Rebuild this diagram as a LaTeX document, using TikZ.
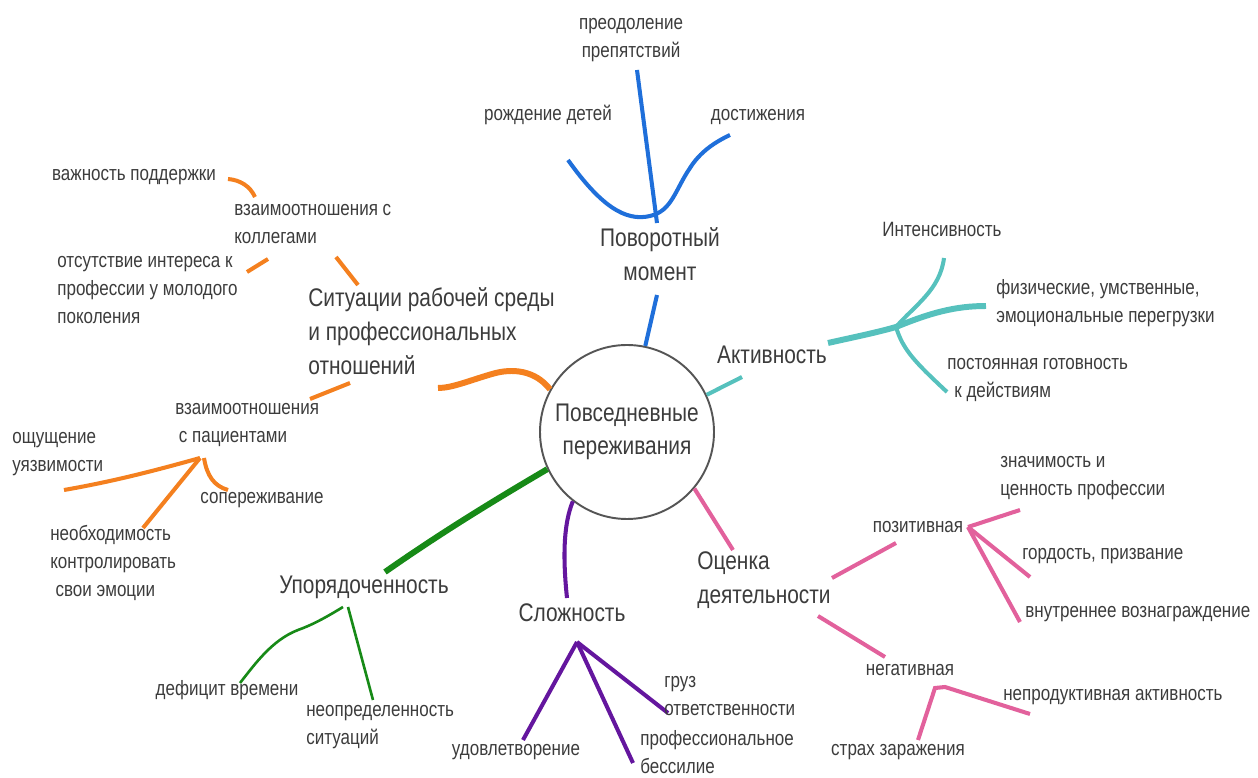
\documentclass[tikz,border=0pt]{standalone}
\usepackage{fontspec}
\setmainfont{Liberation Sans}[FakeStretch=0.82]
\usetikzlibrary{calc}
\definecolor{blau}{HTML}{1F6FDA}
\definecolor{orang}{HTML}{F4801F}
\definecolor{gruen}{HTML}{178A17}
\definecolor{lila}{HTML}{64169E}
\definecolor{rosa}{HTML}{E2619C}
\definecolor{tuerkis}{HTML}{56C1BD}
\definecolor{tgrau}{HTML}{3C3C3C}
\definecolor{kreis}{HTML}{555555}
\tikzset{
  ast/.style={line width=2.3pt},
  dick/.style={line width=3.4pt},
  duenn/.style={line width=1.5pt},
  txt/.style={inner sep=0pt,text=tgrau,align=left,font=\fontsize{11.8}{15.8}\selectfont},
  haupt/.style={inner sep=0pt,text=tgrau,align=left,font=\fontsize{14.5}{19.2}\selectfont},
  zentrum/.style={circle,draw=kreis,line width=1.1pt,minimum size=34.8mm,inner sep=0pt,
    text=tgrau,align=center,font=\fontsize{14.5}{19.2}\selectfont},
}
\begin{document}
\begin{tikzpicture}[x=0.2mm,y=-0.2mm]
  \useasboundingbox (0,0) rectangle (1258,778);
  \node[zentrum] (zentr) at (627,432) {Повседневные\\переживания};

  % Поворотный момент
  \node[haupt,align=center] (wende) at (660,254) {Поворотный\\момент};
  \node[txt,align=center] (hindernis) at (631,40) {преодоление\\препятствий};
  \node[txt] (kinder) at (548,115) {рождение детей};
  \node[txt] (erfolg) at (758,117) {достижения};
  \coordinate (w0) at (657,295);
  \coordinate (w1) at (657,223);
  \coordinate (w2) at (637,70);
  \draw[ast,blau] (zentr.78) -- (w0);
  \draw[ast,blau] (w1) -- (w2);
  \draw[ast,blau] (568,160) .. controls (600,205) and (625,222) .. (650,216)
    .. controls (672,211) and (675,190) .. (690,168) .. controls (700,152) and (715,142) .. (730,135);

  % Ситуации рабочей среды
  \node[haupt,anchor=west] (arbeit) at (308,331) {Ситуации рабочей среды\\и профессиональных\\отношений};
  \draw[dick,orang] (zentr.151) .. controls (535,370) and (512,368) .. (492,374)
    .. controls (468,381) and (452,388) .. (438,388);
  \node[txt,anchor=west] (kolleg) at (234,224) {взаимоотношения с\\коллегами};
  \node[txt] (stuetze) at (134,177) {важность поддержки};
  \node[txt,anchor=west] (interesse) at (57,290) {отсутствие интереса к\\профессии у молодого\\поколения};
  \coordinate (k0) at (336,257);
  \coordinate (k1) at (358,285);
  \draw[ast,orang] (k0) -- (k1);
  \draw[ast,orang] (228,179) .. controls (240,180) and (250,186) .. (255,197);
  \draw[ast,orang] (247,272) -- (268,259);
  \node[txt,anchor=west] (patient) at (175,425) {взаимоотношения\\\hspace{2pt}с пациентами};
  \coordinate (p0) at (200,458);
  \coordinate (p1) at (350,383);
  \coordinate (p2) at (310,399);
  \draw[ast,orang] (p1) -- (p2);
  \draw[ast,orang] (p0) .. controls (150,472) and (110,482) .. (64,490);
  \draw[ast,orang] (p0) -- (143,528);
  \draw[ast,orang] (204,458) .. controls (207,476) and (214,486) .. (228,490);
  \node[txt,anchor=west] (verletz) at (12,454) {ощущение\\уязвимости};
  \node[txt] (mitgef) at (262,500) {сопереживание};
  \node[txt,anchor=west] (kontrolle) at (50,563) {необходимость\\контролировать\\\hspace{3pt}свои эмоции};

  % Упорядоченность
  \node[haupt] (ordnung) at (364,587) {Упорядоченность};
  \draw[dick,gruen] (zentr.205) .. controls (500,497) and (445,530) .. (385,572);
  \coordinate (o0) at (343,607);
  \coordinate (o1) at (348,607);
  \draw[duenn,gruen] (o0) .. controls (325,618) and (312,625) .. (298,630)
    .. controls (272,640) and (255,664) .. (240,683);
  \draw[duenn,gruen] (o1) -- (373,700);
  \node[txt] (zeit) at (227,690) {дефицит времени};
  \node[txt,anchor=west] (unsicher) at (306,727) {неопределенность\\ситуаций};

  % Сложность
  \node[haupt] (schwer) at (572,613) {Сложность};
  \draw[ast,lila] (zentr.232) .. controls (563,525) and (563,560) .. (567,598);
  \coordinate (s0) at (577,642);
  \draw[ast,lila] (s0) -- (523,740);
  \draw[ast,lila] (s0) -- (633,763);
  \draw[ast,lila] (s0) -- (668,713);
  \node[txt] (zufried) at (516,752) {удовлетворение};
  \node[txt,anchor=west] (last) at (664,696) {груз\\ответственности};
  \node[txt,anchor=west] (ohnmacht) at (640,752) {профессиональное\\бессилие};

  % Оценка деятельности
  \node[haupt,anchor=west] (bewert) at (697,580) {Оценка\\деятельности};
  \draw[ast,rosa] (zentr.-40) -- (733,550);
  \draw[ast,rosa] (832,578) -- (896,543);
  \node[txt] (posit) at (918,527) {позитивная};
  \coordinate (b0) at (968,527);
  \draw[ast,rosa] (b0) -- (1020,510);
  \draw[ast,rosa] (b0) -- (1030,577);
  \draw[ast,rosa] (b0) -- (1020,622);
  \node[txt,anchor=west] (wert) at (1000,478) {значимость и\\ценность профессии};
  \node[txt,anchor=west] (stolz) at (1022,556) {гордость, призвание};
  \node[txt,anchor=west] (lohn) at (1025,614) {внутреннее вознаграждение};
  \draw[ast,rosa] (818,616) -- (885,657);
  \node[txt] (negat) at (910,670) {негативная};
  \coordinate (b1) at (935,688);
  \draw[ast,rosa] (918,740) -- (b1) -- (945,687) -- (1030,714);
  \node[txt] (angst) at (898,752) {страх заражения};
  \node[txt,anchor=west] (unprod) at (1003,697) {непродуктивная активность};

  % Активность
  \node[haupt] (aktiv) at (772,355) {Активность};
  \draw[ast,tuerkis] (zentr.25) -- (742,377);
  \coordinate (a0) at (896,327);
  \draw[dick,tuerkis] (828,343) .. controls (850,338) and (875,333) .. (a0)
    .. controls (930,313) and (955,306) .. (986,306);
  \draw[ast,tuerkis] (a0) .. controls (915,305) and (940,290) .. (944,258);
  \draw[ast,tuerkis] (a0) .. controls (903,350) and (915,362) .. (947,392);
  \node[txt] (intens) at (942,229) {Интенсивность};
  \node[txt,anchor=west] (ueberl) at (996,303) {физические, умственные,\\эмоциональные перегрузки};
  \node[txt,anchor=west] (bereit) at (947,380) {постоянная готовность\\\hspace{4pt}к действиям};
\end{tikzpicture}
\end{document}
